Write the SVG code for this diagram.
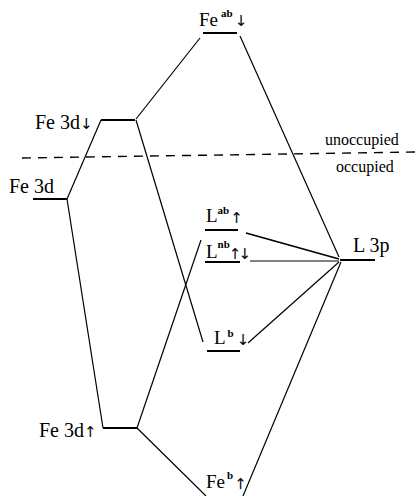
<svg xmlns="http://www.w3.org/2000/svg" width="416" height="496" viewBox="0 0 416 496">
<style>
.lv{stroke:#000;stroke-width:2;fill:none}
.cn{stroke:#000;stroke-width:1.2;fill:none}
.cn2{stroke:#000;stroke-width:1.8;fill:none}
.t{font-family:"Liberation Serif","Times New Roman",serif;font-size:20px;fill:#000}
.tl{font-family:"Liberation Serif","Times New Roman",serif;font-size:19px;fill:#000}
.s{font-family:"Liberation Serif","Times New Roman",serif;font-size:11px;font-weight:bold}
.a{font-family:"DejaVu Sans",sans-serif;font-size:15px}
.o{font-family:"Liberation Serif","Times New Roman",serif;font-size:16px;fill:#000}
</style>
<rect width="416" height="496" fill="#fff"/>
<g id="connectors">
<line class="cn" x1="67" y1="199" x2="101" y2="120"/>
<line class="cn" x1="67" y1="199" x2="103" y2="428"/>
<line class="cn" x1="136" y1="119" x2="200" y2="38"/>
<line class="cn" x1="136" y1="120" x2="203" y2="342"/>
<line class="cn" x1="240" y1="36" x2="339" y2="257"/>
<line class="cn2" x1="246" y1="233" x2="339" y2="259"/>
<line class="cn" x1="250" y1="261" x2="339" y2="261"/>
<line class="cn" x1="248" y1="343" x2="339" y2="262"/>
<line class="cn" x1="137" y1="428" x2="201" y2="240"/>
<line class="cn" x1="137" y1="428" x2="206" y2="496"/>
<line class="cn" x1="341" y1="262" x2="243" y2="496"/>
<line x1="22" y1="158" x2="416" y2="152" stroke="#000" stroke-width="1.4" stroke-dasharray="9 7"/>
</g>
<g id="occ-labels">
<text class="o" x="325" y="145">unoccupied</text>
<text class="o" x="336" y="172">occupied</text>
</g>
<g id="fe-ab">
<line class="lv" x1="203" y1="33" x2="237" y2="33"/>
<text class="tl" x="199" y="26">Fe<tspan class="s" dx="3" dy="-9">ab</tspan><tspan class="a" dx="2" dy="9">↓</tspan></text>
</g>
<g id="fe-3d-down">
<line class="lv" x1="101" y1="120" x2="135" y2="120"/>
<text class="t" x="35" y="129">Fe 3d<tspan class="a">↓</tspan></text>
</g>
<g id="fe-3d">
<line class="lv" x1="33" y1="199" x2="67" y2="199"/>
<text class="t" x="9" y="193">Fe 3d</text>
</g>
<g id="l-ab">
<line class="lv" x1="205" y1="230" x2="238" y2="230"/>
<text class="tl" x="206" y="222">L<tspan class="s" dy="-8">ab</tspan><tspan class="a" dx="1" dy="9">↑</tspan></text>
</g>
<g id="l-nb">
<line class="lv" x1="205" y1="262" x2="240" y2="262"/>
<text class="tl" x="206" y="258">L<tspan class="s" dy="-10">nb</tspan><tspan class="a" dx="-1" dy="11" letter-spacing="-3">↑↓</tspan></text>
</g>
<g id="l-3p">
<line class="lv" x1="340" y1="260" x2="375" y2="260"/>
<text class="t" x="353" y="252">L 3p</text>
</g>
<g id="l-b">
<line class="lv" x1="207" y1="351" x2="240" y2="351"/>
<text class="tl" x="214" y="344">L<tspan class="s" dx="2" dy="-7">b</tspan><tspan class="a" dx="3" dy="8">↓</tspan></text>
</g>
<g id="fe-3d-up">
<line class="lv" x1="103" y1="428" x2="137" y2="428"/>
<text class="t" x="39" y="437">Fe 3d<tspan class="a">↑</tspan></text>
</g>
<g id="fe-b">
<text class="tl" x="206" y="488">Fe<tspan class="s" dx="2" dy="-9">b</tspan><tspan class="a" dx="1" dy="10">↑</tspan></text>
</g>
</svg>
